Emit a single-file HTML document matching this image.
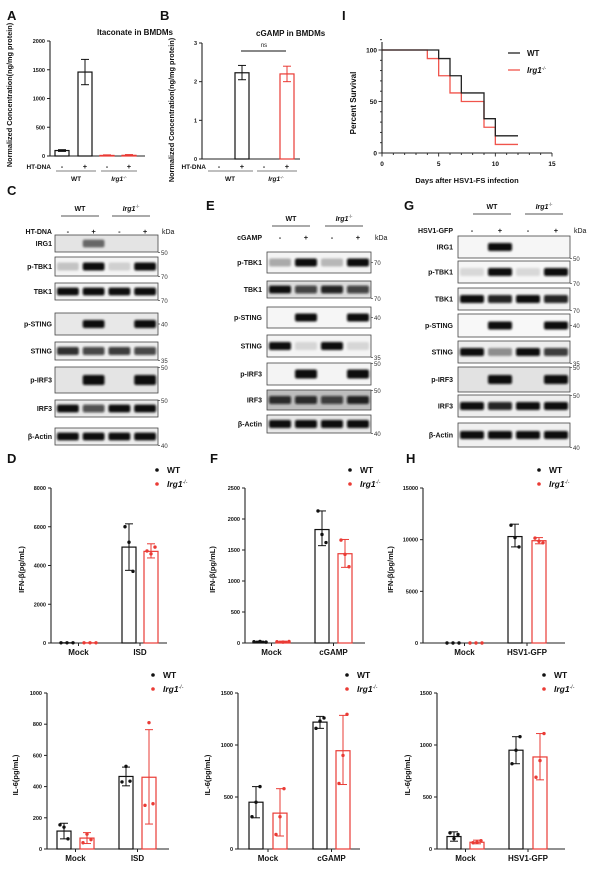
<!DOCTYPE html>
<html><head><meta charset="utf-8">
<style>
html,body{margin:0;padding:0;background:#fff;}
svg{display:block;font-family:"Liberation Sans",Arial,sans-serif;}
text{font-family:"Liberation Sans",Arial,sans-serif;}
</style></head>
<body>
<svg id="fig" width="600" height="875" viewBox="0 0 600 875" xmlns="http://www.w3.org/2000/svg">
<defs>
<filter id="blur" x="-30%" y="-100%" width="160%" height="300%"><feGaussianBlur stdDeviation="1.1"/></filter>
</defs>
</svg>
<script>
// ---------- DATA ----------
// Panel A
const aCategories=['WT -','WT +','KO -','KO +'];
const aMeans=[95,1460,10,12];
const aErrLo=[80,1240,0,0];
const aErrHi=[110,1680,20,25];
const aTicks=[0,500,1000,1500,2000];
// Panel B
const bCategories=['WT -','WT +','KO -','KO +'];
const bMeans=[0,2.23,0,2.2];
const bErrLo=[0,2.05,0,2.0];
const bErrHi=[0,2.42,0,2.4];
const bTicks=[0,1,2,3];
// Panel I survival
const wtTimes=[0,5,6,7,9,10,12];
const wtSurv=[100,91.7,75,58.3,33.3,16.7,16.7];
const koTimes=[0,4,5,6,7,9,10,12];
const koSurv=[100,91.7,75,58.3,50,25,8.3,8.3];
const iXTicks=[0,5,10,15];
const iYTicks=[0,50,100];
// Panel D IFN-b
const dCats=['Mock','ISD'];
const dTicks=[0,2000,4000,6000,8000];
const dWT=[10,4950]; const dWTLo=[10,3750]; const dWTHi=[10,6150];
const dWTPts=[[10,10,10],[6000,5200,3700]];
const dKO=[10,4730]; const dKOLo=[10,4390]; const dKOHi=[10,5120];
const dKOPts=[[10,10,10],[4750,4600,4950]];
// Panel F IFN-b
const fCats=['Mock','cGAMP'];
const fTicks=[0,500,1000,1500,2000,2500];
const fWT=[20,1830]; const fWTLo=[10,1570]; const fWTHi=[30,2130];
const fWTPts=[[20,25,15],[2130,1750,1620]];
const fKO=[20,1440]; const fKOLo=[10,1220]; const fKOHi=[30,1670];
const fKOPts=[[20,15,25],[1660,1430,1230]];
// Panel H IFN-b
const hCats=['Mock','HSV1-GFP'];
const hTicks=[0,5000,10000,15000];
const hWT=[0,10300]; const hWTLo=[0,9300]; const hWTHi=[0,11500];
const hWTPts=[[0,0,0],[11400,10200,9300]];
const hKO=[0,9900]; const hKOLo=[0,9600]; const hKOHi=[0,10200];
const hKOPts=[[0,0,0],[10150,9850,9700]];
// IL-6 left
const d2Cats=['Mock','ISD'];
const d2Ticks=[0,200,400,600,800,1000];
const d2WT=[115,465]; const d2WTLo=[65,405]; const d2WTHi=[165,525];
const d2WTPts=[[155,140,65],[430,530,435]];
const d2KO=[70,460]; const d2KOLo=[35,160]; const d2KOHi=[105,765];
const d2KOPts=[[40,95,60],[280,810,290]];
// IL-6 mid
const f2Cats=['Mock','cGAMP'];
const f2Ticks=[0,500,1000,1500];
const f2WT=[450,1220]; const f2WTLo=[300,1160]; const f2WTHi=[600,1275];
const f2WTPts=[[310,450,600],[1160,1230,1260]];
const f2KO=[345,945]; const f2KOLo=[125,620]; const f2KOHi=[580,1285];
const f2KOPts=[[140,310,580],[630,900,1295]];
// IL-6 right
const h2Cats=['Mock','HSV1-GFP'];
const h2Ticks=[0,500,1000,1500];
const h2WT=[120,950]; const h2WTLo=[75,820]; const h2WTHi=[165,1080];
const h2WTPts=[[155,100,140],[820,950,1080]];
const h2KO=[65,885]; const h2KOLo=[50,665]; const h2KOHi=[85,1110];
const h2KOPts=[[60,65,80],[690,850,1110]];

// ---------- HELPERS ----------
const NS='http://www.w3.org/2000/svg';
const S=document.getElementById('fig');
const RED='#ea3b35';
function mk(tag,a,p){const e=document.createElementNS(NS,tag);for(const k in a)e.setAttribute(k,a[k]);(p||S).appendChild(e);return e;}
function tx(x,y,s,size,anchor,extra){const a=Object.assign({x:x,y:y,'font-size':size,'font-weight':'bold','text-anchor':anchor||'start',fill:'#111'},extra||{});const e=mk('text',a);e.textContent=s;return e;}
function irg(x,y,size,anchor,fill){const e=mk('text',{x:x,y:y,'font-size':size,'font-weight':'bold','text-anchor':anchor||'start',fill:fill||'#111'});
  const t1=mk('tspan',{'font-style':'italic'},e);t1.textContent='Irg1';
  const t2=mk('tspan',{'font-size':size*0.6,dy:-size*0.4,'font-weight':'normal'},e);t2.textContent='-/-';return e;}
function line(x1,y1,x2,y2,c,w){return mk('line',{x1:x1,y1:y1,x2:x2,y2:y2,stroke:c||'#111','stroke-width':w||1});}
function yaxis(g,ticks,tickFmt){const ax=line(g.ax,g.top,g.ax,g.y0,'#222',1.1);
  
  
  ticks.forEach(t=>{const y=g.sy(t);line(g.ax-3,y,g.ax,y,'#222',1);
    const l=tx(g.ax-5,y+2,tickFmt?tickFmt(t):String(t),g.tf||5.5,'end');
    
    });
  const xa=line(g.ax,g.y0,g.xe,g.y0,'#222',1.1);
  
  }
function ylabel(x,y,s,size){const e=mk('text',{x:x,y:y,'font-size':size,'font-weight':'bold','text-anchor':'middle',fill:'#111',transform:`rotate(-90 ${x} ${y})`});e.textContent=s;return e;}
function bar(g,x,v,lo,hi,c,w){const y=g.sy(v);
  const r=mk('rect',{x:x-w/2,y:Math.min(y,g.y0),width:w,height:Math.abs(g.y0-y),fill:'#fff',stroke:c,'stroke-width':1.2});
  
  
  const yl=g.sy(lo),yh=g.sy(hi);
  if(hi>lo){line(x,yl,x,yh,c,1);line(x-4,yh,x+4,yh,c,1);line(x-4,yl,x+4,yl,c,1);}
  return r;}
function dot(x,y,c){const d=mk('circle',{cx:x,cy:y,r:1.7,fill:c});
  
  }
function letter(x,y,s){const e=tx(x,y,s,13,'start');
  
  }

// ---------- A & B ----------
function simpleBar(g,cats,means,lo,hi,ticks,xs,colors,fmt){
  yaxis(g,ticks,fmt);
  cats.forEach((c,i)=>{bar(g,xs[i],means[i],lo[i],hi[i],colors[i],14);});}
letter(7,20,'A');
{const g={ax:50,top:41,y0:156,xe:145,tf:5.5};g.sy=v=>g.y0-(v/2000)*(g.y0-g.top);
 const t=tx(97,35,'Itaconate in BMDMs',8);
 
 
 const xs=[62,85,107,129];
 simpleBar(g,aCategories,aMeans,aErrLo,aErrHi,aTicks,xs,['#111','#111',RED,RED]);
 const yl=ylabel(12,95,'Normalized Concentration(ng/mg protein)',7.3);
 
 
 tx(51,169,'HT-DNA',6.5,'end');
 ['-','+','-','+'].forEach((s,i)=>tx(xs[i],169,s,7.5,'middle'));
 line(56,171,96,171,'#555',0.8);line(101,171,137,171,'#555',0.8);
 tx(76,181,'WT',6.5,'middle');irg(119,181,6.5,'middle');}
letter(160,20,'B');
{const g={ax:202,top:43,y0:159,xe:300,tf:5.5};g.sy=v=>g.y0-(v/3)*(g.y0-g.top);
 const t=tx(256,36,'cGAMP in BMDMs',8);
 
 
 const xs=[219,242,264,287];
 simpleBar(g,bCategories,bMeans,bErrLo,bErrHi,bTicks,xs,['#111','#111',RED,RED]);
 line(241,51,286,51,'#111',1);tx(264,47,'ns',6,'middle',{'font-weight':'normal'});
 const yl=ylabel(174,110,'Normalized Concentration(ng/mg protein)',7.3);
 
 
 tx(206,169,'HT-DNA',6.5,'end');
 ['-','+','-','+'].forEach((s,i)=>tx(xs[i],169,s,7.5,'middle'));
 line(208,171,253,171,'#555',0.8);line(257,171,297,171,'#555',0.8);
 tx(230,181,'WT',6.5,'middle');irg(276,181,6.5,'middle');}

// ---------- I survival ----------
letter(342,20,'I');
{const x0=382,x1=552,y0=153,y1=50;
 const sx=t=>x0+(t/15)*(x1-x0), sy=v=>y0-(v/100)*(y0-y1);
 line(x0,42,x0,y0,'#222',1.1);line(x0,y0,x1,y0,'#222',1.1);
 for(let t=0;t<=15;t++){line(sx(t),y0,sx(t),y0+(t%5?2:3.5),'#222',0.9);}
 for(let v=0;v<=110;v+=10){line(x0-(v%50?2:3.5),sy(v),x0,sy(v),'#222',0.9);}
 iXTicks.forEach(t=>tx(sx(t),166,String(t),6.5,'middle'));
 iYTicks.forEach(v=>tx(x0-5,sy(v)+2.5,String(v),6.5,'end'));
 function steps(T,V,c,name){let d=`M${sx(T[0])},${sy(V[0])}`;
   for(let i=1;i<T.length;i++){d+=` H${sx(T[i])} V${sy(V[i])}`;}
   const p=mk('path',{d:d,fill:'none',stroke:c,'stroke-width':1.3});
   
   }
 steps(koTimes,koSurv,'#f0544c','survival-line-irg1');
 steps(wtTimes,wtSurv,'#222','survival-line-wt');
 line(508,53,520,53,'#222',1.3);tx(527,56,'WT',8);
 line(508,70,520,70,'#f0544c',1.3);irg(527,73,8,'start');
 const yl=ylabel(356,103,'Percent Survival',8);
 
 
 const xl=tx(467,183,'Days after HSV1-FS infection',7.5,'middle');
 
 }

// ---------- Blots ----------
function blot(cfg){
  const [bx0,bx1]=cfg.box;const lw=(bx1-bx0)/4;
  tx(cfg.wtx,cfg.hy,'WT',7,'middle');irg(cfg.kox,cfg.hy,7,'middle');
  line(cfg.wtx-19,cfg.hy+5,cfg.wtx+19,cfg.hy+5,'#555',0.9);
  line(cfg.kox-19,cfg.hy+5,cfg.kox+19,cfg.hy+5,'#555',0.9);
  const tl=tx(cfg.lx,cfg.ty,cfg.treat,7,'end');
  
  
  ['-','+','-','+'].forEach((s,i)=>tx(bx0+lw*(i+0.5),cfg.ty,s,7.5,'middle'));
  tx(bx1+4,cfg.ty,'kDa',7,'start',{'font-weight':'normal'});
  cfg.rows.forEach(r=>{
    const h=r[2]-r[1];
    const bg=mk('rect',{x:bx0,y:r[1],width:bx1-bx0,height:h,fill:r[4]||'#f1f1f1',stroke:'#444','stroke-width':0.8});
    
    
    const bh=r[7]||Math.min(8,h*0.45);const cy=(r[1]+r[2])/2;
    r[3].forEach((v,i)=>{if(v<=0)return;
      mk('rect',{x:bx0+lw*i+2,y:cy-bh/2,width:lw-4,height:bh,rx:2,fill:'#0a0a0a','fill-opacity':v,filter:'url(#blur)'});});
    const lab=tx(cfg.lx,cy+2.5,r[0],7,'end');
    
    
    const my=r[6]==='t'?r[1]+3:(r[6]==='m'?cy+2.5:r[2]+3);
    line(bx1,my-2.5,bx1+2,my-2.5,'#444',0.7);
    tx(bx1+3,my,r[5],6,'start',{'font-weight':'normal','fill':'#333'});
  });}
letter(7,195,'C');
blot({box:[55,158],wtx:80,kox:131,hy:211,ty:234,lx:52,treat:'HT-DNA',rows:[
 ['IRG1',235,252,[0,0.55,0,0],'#e4e4e4','50','b'],
 ['p-TBK1',257,276,[0.2,1,0.15,1],'#f4f4f4','70','b'],
 ['TBK1',283,300,[1,1,1,1],'#f2f2f2','70','b'],
 ['p-STING',313,335,[0,1,0,1],'#e8e8e8','40','m'],
 ['STING',342,360,[0.85,0.75,0.8,0.75],'#eeeeee','35','b'],
 ['p-IRF3',367,393,[0,1,0,1],'#e4e4e4','50','t',10],
 ['IRF3',400,417,[1,0.7,1,1],'#eaeaea','50','t'],
 ['β-Actin',428,445,[1,1,1,1],'#eeeeee','40','b']]});
letter(206,210,'E');
blot({box:[267,371],wtx:291,kox:344,hy:221,ty:240,lx:262,treat:'cGAMP',rows:[
 ['p-TBK1',252,273,[0.3,1,0.25,1],'#f4f4f4','70','m'],
 ['TBK1',281,298,[1,0.75,0.9,0.75],'#dcdcdc','70','b'],
 ['p-STING',307,328,[0,1,0,1],'#f6f6f6','40','m'],
 ['STING',335,357,[1,0.12,1,0.12],'#f4f4f4','35','b'],
 ['p-IRF3',363,385,[0,1,0,1],'#f4f4f4','50','t',9],
 ['IRF3',390,410,[0.85,0.85,0.75,0.9],'#bdbdbd','50','t'],
 ['β-Actin',415,433,[1,1,1,1],'#e8e8e8','40','b']]});
letter(404,210,'G');
blot({box:[458,570],wtx:492,kox:544,hy:209,ty:233,lx:453,treat:'HSV1-GFP',rows:[
 ['IRG1',236,258,[0,1,0,0],'#f6f6f6','50','b'],
 ['p-TBK1',261,283,[0.12,1,0.12,1],'#f6f6f6','70','b'],
 ['TBK1',288,310,[1,0.9,1,0.9],'#f2f2f2','70','b'],
 ['p-STING',314,337,[0,1,0,1],'#f8f8f8','40','m'],
 ['STING',341,363,[1,0.4,1,0.8],'#ededed','35','b'],
 ['p-IRF3',367,392,[0,1,0,1],'#e2e2e2','50','t',9],
 ['IRF3',395,417,[1,0.9,1,1],'#eeeeee','50','t'],
 ['β-Actin',423,447,[1,1,1,1],'#f0f0f0','40','b']]});

// ---------- Grouped bar charts ----------
function gchart(g,cats,ticks,wt,wtLo,wtHi,wtPts,ko,koLo,koHi,koPts,ylab,legY){
  g.sy=v=>g.y0-(v/ticks[ticks.length-1])*(g.y0-g.top);
  yaxis(g,ticks);
  cats.forEach((c,i)=>{
    const xw=g.xs[i][0],xk=g.xs[i][1];
    bar(g,xw,wt[i],wtLo[i],wtHi[i],'#111',14);
    bar(g,xk,ko[i],koLo[i],koHi[i],RED,14);
    const sp=(wt[i]<0.02*ticks[ticks.length-1])?6:4;
    wtPts[i].forEach((v,j)=>dot(xw+(j-1)*sp,g.sy(v),'#111'));
    koPts[i].forEach((v,j)=>dot(xk+(j-1)*sp,g.sy(v),RED));
    const mx=(xw+xk)/2;line(mx,g.y0,mx,g.y0+3,'#222',1);
    const l=tx(mx,g.y0+12,c,8,'middle');
    
    });
  const yl=ylabel(g.ylx,(g.top+g.y0)/2+4,ylab,7.5);
  
  
  const d1=mk('circle',{cx:g.lx,cy:legY,r:1.8,fill:'#111'});
  
  
  tx(g.lx+10,legY+3,'WT',8.5);
  const d2=mk('circle',{cx:g.lx,cy:legY+14,r:1.8,fill:RED});
  
  
  irg(g.lx+10,legY+17,8.5,'start');}
letter(7,463,'D');letter(210,463,'F');letter(406,463,'H');
gchart({ax:51,top:488,y0:643,xe:167,xs:[[67,90],[129,151]],ylx:24,lx:157},dCats,dTicks,dWT,dWTLo,dWTHi,dWTPts,dKO,dKOLo,dKOHi,dKOPts,'IFN-β(pg/mL)',470);
gchart({ax:245,top:488,y0:643,xe:365,xs:[[260,283],[322,345]],ylx:215,lx:350},fCats,fTicks,fWT,fWTLo,fWTHi,fWTPts,fKO,fKOLo,fKOHi,fKOPts,'IFN-β(pg/mL)',470);
gchart({ax:423,top:488,y0:643,xe:565,xs:[[453,476],[515,539]],ylx:393,lx:539},hCats,hTicks,hWT,hWTLo,hWTHi,hWTPts,hKO,hKOLo,hKOHi,hKOPts,'IFN-β(pg/mL)',470);
gchart({ax:47,top:693,y0:849,xe:169,xs:[[64,87],[126,149]],ylx:18,lx:153},d2Cats,d2Ticks,d2WT,d2WTLo,d2WTHi,d2WTPts,d2KO,d2KOLo,d2KOHi,d2KOPts,'IL-6(pg/mL)',675);
gchart({ax:238,top:693,y0:849,xe:360,xs:[[256,280],[320,343]],ylx:210,lx:347},f2Cats,f2Ticks,f2WT,f2WTLo,f2WTHi,f2WTPts,f2KO,f2KOLo,f2KOHi,f2KOPts,'IL-6(pg/mL)',675);
gchart({ax:437,top:693,y0:849,xe:565,xs:[[454,477],[516,540]],ylx:410,lx:544},h2Cats,h2Ticks,h2WT,h2WTLo,h2WTHi,h2WTPts,h2KO,h2KOLo,h2KOHi,h2KOPts,'IL-6(pg/mL)',675);
</script>
</body></html>
